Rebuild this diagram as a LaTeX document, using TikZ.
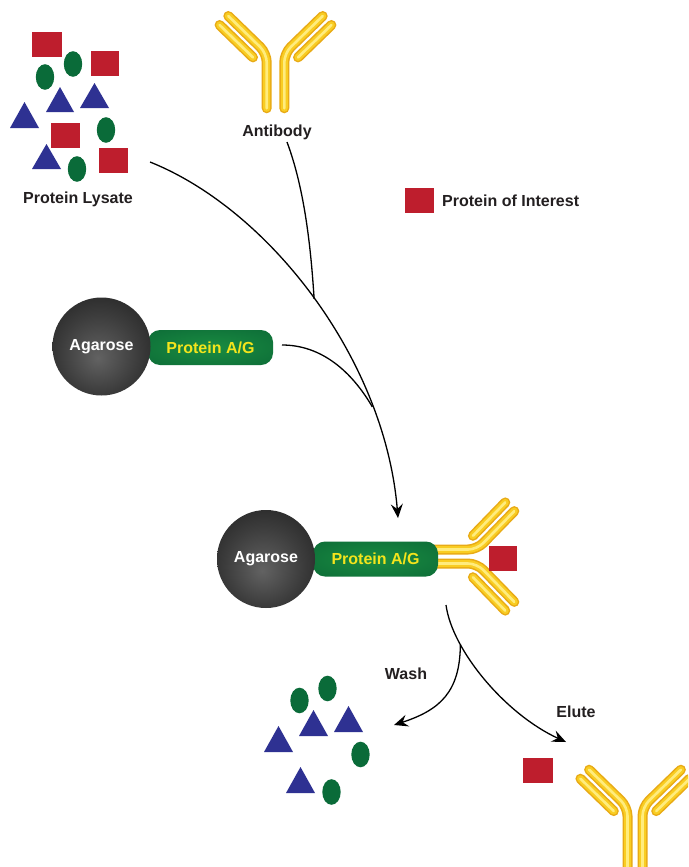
\documentclass[tikz,border=0pt]{standalone}
\usepackage{fontspec}
\setmainfont{Liberation Sans}
\usetikzlibrary{arrows.meta}

\definecolor{protred}{HTML}{BE1E2D}
\definecolor{protgreen}{HTML}{0A6B39}
\definecolor{protblue}{HTML}{2E3192}
\definecolor{labelink}{HTML}{231F20}
\definecolor{agyellow}{HTML}{F4E41C}
\definecolor{tubeEdge}{HTML}{E8AA16}
\definecolor{tubeBody}{HTML}{F9CD22}
\definecolor{tubeShine}{HTML}{FFEC7E}
\definecolor{beadC}{HTML}{626262}
\definecolor{beadM}{HTML}{3C3C3C}
\definecolor{beadE}{HTML}{161616}
\definecolor{pillC}{HTML}{1A8C41}
\definecolor{pillM}{HTML}{10743A}
\definecolor{pillE}{HTML}{0B6232}

% agarose bead: dark sphere, lighter towards the lower middle
\pgfdeclareradialshading{beadshade}{\pgfpoint{-2bp}{-6bp}}{color(0bp)=(beadC); color(20bp)=(beadM); color(42bp)=(beadE); color(50bp)=(beadE)}
% protein A/G capsule: soft green glow
\pgfdeclareradialshading{pillshade}{\pgfpoint{0bp}{0bp}}{color(0bp)=(pillC); color(28bp)=(pillM); color(50bp)=(pillE)}

\tikzset{
  lbl/.style={font=\fontsize{16}{19}\selectfont\bfseries, text=labelink, inner sep=0pt},
  redsq/.style={fill=protred},
  greenov/.style={fill=protgreen},
  bluetri/.style={fill=protblue},
  flow/.style={draw=black, line width=1.3pt},
  flowarrow/.style={flow, -{Stealth[length=14pt,width=12pt,inset=5pt]}},
  beadball/.style={circle, minimum size=98pt, inner sep=0pt, shading=beadshade,
    font=\fontsize{16}{19}\selectfont\bfseries, text=white},
  pillbox/.style={rounded corners=12pt, minimum width=125pt, minimum height=35pt,
    inner sep=0pt, shading=pillshade, font=\fontsize{16}{19}\selectfont\bfseries, text=agyellow},
  tube edge/.style={draw=tubeEdge, line width=10pt, line cap=round, rounded corners=9pt},
  tube body/.style={draw=tubeBody, line width=7pt, line cap=round, rounded corners=9pt},
  tube shine/.style={draw=tubeShine, line width=2.6pt, line cap=round, rounded corners=9pt},
}

% one chain of the antibody, drawn as a glossy tube
\newcommand\abtube[1]{%
  \draw[tube edge] #1;
  \draw[tube body] #1;
  \draw[tube shine] #1;}

% Y-shaped antibody: corner x, corner y, angle, half gap of the stem, stem length
\newcommand\antibody[5]{%
  \begin{scope}[shift={(#1,#2)}, rotate=#3]
    \abtube{(-#4,#5) -- (-#4,0) -- ({-#4-38.4},-37.3)}
    \abtube{(#4,#5) -- (#4,0) -- ({#4+38.4},-37.3)}
    \abtube{({-#4-47.1},-28.3) -- ({-#4-13.7},4.1)}
    \abtube{({#4+47.1},-28.3) -- ({#4+13.7},4.1)}
  \end{scope}}

\begin{document}
\begin{tikzpicture}[x=1pt, y=-1pt]
  \useasboundingbox (0,0) rectangle (688,867);
  \clip (0,0) rectangle (688,867);
  \fill[white] (0,0) rectangle (688,867);

  % ---- protein lysate ----
  \fill[redsq] (32,32) rectangle (62,57);
  \fill[redsq] (91,51) rectangle (119,76);
  \fill[redsq] (51,123) rectangle (80,148);
  \fill[redsq] (99,148) rectangle (128,173);
  \fill[greenov] (45,77) ellipse [x radius=9.2pt, y radius=12.8pt];
  \fill[greenov] (73,64) ellipse [x radius=9.2pt, y radius=12.8pt];
  \fill[greenov] (106,130) ellipse [x radius=9.2pt, y radius=12.8pt];
  \fill[greenov] (77,169) ellipse [x radius=9.2pt, y radius=12.8pt];
  \fill[bluetri] (46,112) -- (74,112) -- (60,87) -- cycle;
  \fill[bluetri] (80,108) -- (109,108) -- (94.5,83) -- cycle;
  \fill[bluetri] (10,128) -- (39,128) -- (24.5,102) -- cycle;
  \fill[bluetri] (32,169) -- (61,169) -- (46.5,144) -- cycle;
  \node[lbl, anchor=base] (lysate) at (78,203) {Protein Lysate};

  % ---- antibody ----
  \antibody{275.5}{53.3}{0}{8.8}{55}
  \node[lbl, anchor=base] (ablabel) at (277,136) {Antibody};

  % ---- legend ----
  \fill[redsq] (405,188) rectangle (434,213);
  \node[lbl, anchor=base west] (legend) at (442,206) {Protein of Interest};

  % ---- bead with protein A/G ----
  \node[pillbox] (pag1) at (210.5,347.5) {Protein A/G};
  \node[beadball] (bead1) at (101.5,346.5) {Agarose};

  % ---- bound complex ----
  \antibody{477}{556.5}{-90}{7}{48}
  \fill[redsq] (489,546) rectangle (517,571);
  \node[pillbox] (pag2) at (375.5,559) {Protein A/G};
  \node[beadball] (bead2) at (266,559) {Agarose};

  % ---- washed-away proteins ----
  \fill[greenov] (299.5,700.5) ellipse [x radius=9.2pt, y radius=12.8pt];
  \fill[greenov] (327.5,688.5) ellipse [x radius=9.2pt, y radius=12.8pt];
  \fill[greenov] (360.5,754.5) ellipse [x radius=9.2pt, y radius=12.8pt];
  \fill[greenov] (331.5,792) ellipse [x radius=9.2pt, y radius=12.8pt];
  \fill[bluetri] (299,736) -- (328,736) -- (313.5,710) -- cycle;
  \fill[bluetri] (334,732) -- (363,732) -- (348.5,706) -- cycle;
  \fill[bluetri] (264,752) -- (293,752) -- (278.5,726) -- cycle;
  \fill[bluetri] (286,793) -- (315,793) -- (300.5,767) -- cycle;

  % ---- eluted protein and antibody ----
  \fill[redsq] (523,758) rectangle (553,783);
  \antibody{635}{807}{0}{7.5}{75}

  % ---- step labels ----
  \node[lbl, anchor=base] (wash) at (406,679) {Wash};
  \node[lbl, anchor=base] (elute) at (576,717) {Elute};

  % ---- flow connectors ----
  \coordinate (lysOut) at (150,162);
  \coordinate (cplxIn) at (398,518);
  \coordinate (abOut) at (287,142);
  \coordinate (agOut) at (282,345);
  \coordinate (cplxOut) at (446,605);
  \coordinate (eluteIn) at (566,742);
  \coordinate (washIn) at (394,725);

  \draw[flowarrow] (lysOut) .. controls (270,210) and (385,360) .. (cplxIn)
     coordinate[pos=0.5] (mergeAb) coordinate[pos=0.76] (mergeAG);
  \draw[flow] (abOut) .. controls (305,190) and (311,250) .. (mergeAb);
  \draw[flow] (agOut) .. controls (322,345) and (352,372) .. (mergeAG);

  \draw[flowarrow] (cplxOut) .. controls (452,650) and (505,714) .. (eluteIn)
     coordinate[pos=0.27] (washFork);
  \draw[flowarrow] (washFork) .. controls (460,692) and (440,710) .. (washIn);
\end{tikzpicture}
\end{document}
